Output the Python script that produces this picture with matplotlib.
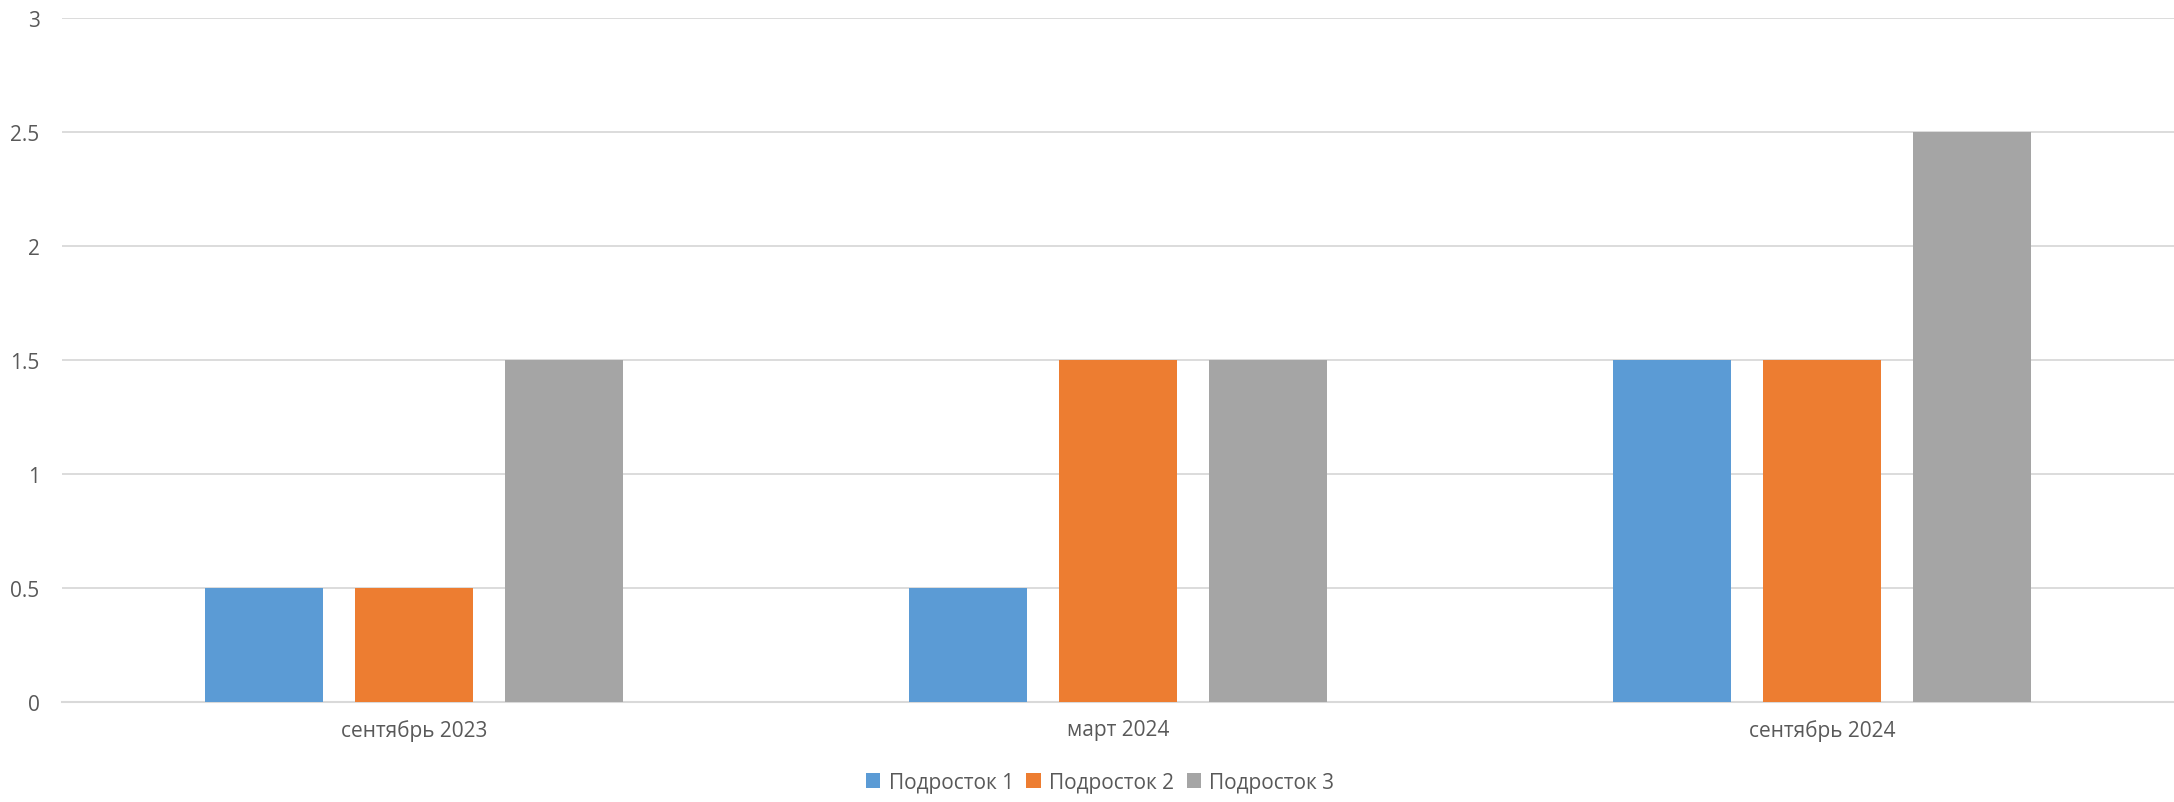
import matplotlib
matplotlib.use("Agg")
import matplotlib.pyplot as plt
import numpy as np

categories = ["сентябрь 2023", "март 2024", "сентябрь 2024"]
series_names = ["Подросток 1", "Подросток 2", "Подросток 3"]
teen1 = [0.5, 0.5, 1.5]
teen2 = [0.5, 1.5, 1.5]
teen3 = [1.5, 1.5, 2.5]
y_ticks = [0, 0.5, 1, 1.5, 2, 2.5, 3]

COLORS = ["#5B9BD5", "#ED7D31", "#A5A5A5"]
TEXT = "#595959"
GRID = "#D9D9D9"

plt.rcParams.update({"font.family": ["Open Sans", "DejaVu Sans"], "font.size": 15})

fig = plt.figure(figsize=(21.74, 8.03), dpi=100)
ax = fig.add_axes([0.0285, 0.1245, 0.9715, 0.852])

x = np.arange(len(categories))
step = 0.213
width = 0.1667
for i, (vals, name) in enumerate(zip([teen1, teen2, teen3], series_names)):
    ax.bar(x + (i - 1) * step, vals, width=width, color=COLORS[i], label=name, zorder=3)

ax.set_xlim(-0.5, len(categories) - 0.5)
ax.set_ylim(0, 3)
ax.set_yticks(y_ticks)
ax.set_yticklabels([f"{t:g}" for t in y_ticks])
ax.set_xticks(x)
ax.set_xticklabels(categories)
ax.tick_params(axis="both", length=0, colors=TEXT, labelsize=15)
ax.tick_params(axis="y", pad=16)
ax.tick_params(axis="x", pad=12)
ax.grid(axis="y", color=GRID, linewidth=1.3, zorder=0)
for side in ["top", "right", "left"]:
    ax.spines[side].set_visible(False)
ax.spines["bottom"].set_color(GRID)
ax.spines["bottom"].set_linewidth(1.5)

fig.legend(
    loc="lower center",
    bbox_to_anchor=(0.506, -0.012),
    ncol=3,
    frameon=False,
    fontsize=15,
    labelcolor=TEXT,
    handlelength=0.7,
    handleheight=0.7,
    handletextpad=0.4,
    columnspacing=0.6,
)

fig.savefig("out.png", dpi=100, facecolor="white")
